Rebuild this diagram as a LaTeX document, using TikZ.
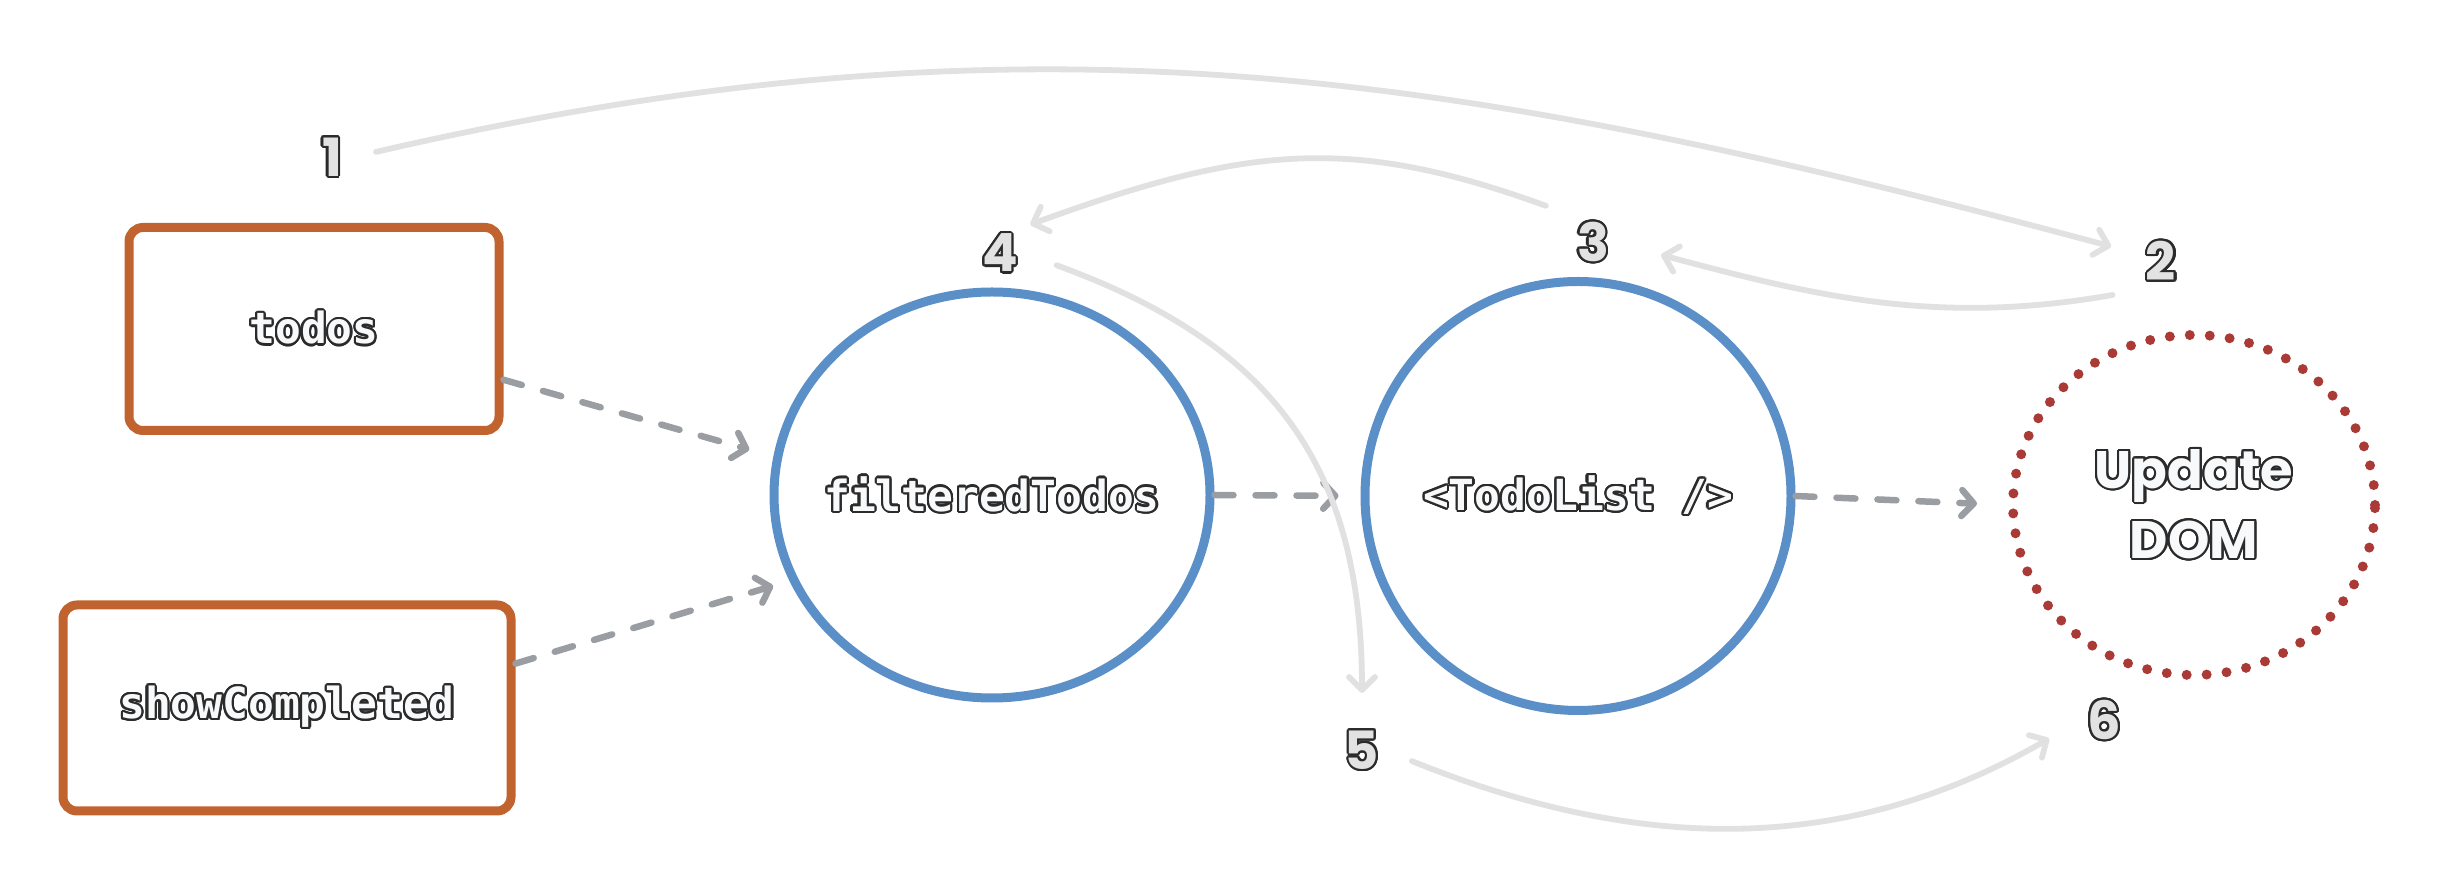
\documentclass[tikz,border=0pt]{standalone}
\usepackage{fontspec}
\usepackage[copies]{contour}
\usetikzlibrary{arrows.meta,shapes.geometric}
\setmonofont{DejaVu Sans Mono}
\newfontfamily\handfont{Poppins}
\definecolor{stateorange}{HTML}{C1632F}
\definecolor{derivedblue}{HTML}{5A8FC8}
\definecolor{effectred}{HTML}{A93A35}
\definecolor{depgray}{HTML}{9A9EA3}
\definecolor{ordergray}{HTML}{E1E1E1}
\definecolor{inkdark}{HTML}{2B2B2B}
\definecolor{textwhite}{HTML}{F8F9FA}
\definecolor{numgray}{HTML}{E2E2E2}
\contourlength{0.6pt}
\contournumber{24}
\tikzstyle{statebox}=[draw=stateorange, line width=0.09cm, rounded corners=0.14cm, inner sep=0pt]
\tikzstyle{derived}=[ellipse, draw=derivedblue, line width=0.09cm, inner sep=0pt]
\tikzstyle{effect}=[ellipse, draw=effectred, line width=0.1cm, line cap=round, dash pattern=on 0pt off 0.2cm, inner sep=0pt]
\tikzstyle{depends}=[draw=depgray, line width=0.065cm, line cap=round, dash pattern=on 0.19cm off 0.22cm, -{Straight Barb[round,length=0.12cm,width=0.26cm]}]
\tikzstyle{order}=[draw=ordergray, line width=0.058cm, line cap=round, -{Straight Barb[round,length=0.13cm,width=0.26cm]}]
\tikzstyle{stepnum}=[inner sep=2pt, font=\handfont\bfseries\fontsize{15}{15}\selectfont]
\newcommand{\codetext}[1]{{\ttfamily\bfseries\fontsize{12.2}{14}\selectfont\textcolor{textwhite}{\contour{inkdark}{#1}}}}
\newcommand{\numtext}[1]{\textcolor{numgray}{\contour{inkdark}{#1}}} % outlined step number
\newcommand{\handtext}[1]{\textcolor{textwhite}{\contour{inkdark}{#1}}}

\begin{document}
\begin{tikzpicture}
	\useasboundingbox (0,0) rectangle (24.47,8.92);
	% state
	\node[statebox, minimum width=3.70cm, minimum height=2.03cm] (todos) at (3.14,5.63) {\codetext{todos}};
	\node[statebox, minimum width=4.48cm, minimum height=2.06cm] (showCompleted) at (2.87,1.84) {\codetext{showCompleted}};
	% derived values
	\node[derived, minimum width=4.36cm, minimum height=4.06cm, label=center:{\codetext{filteredTodos}}] (filteredTodos) at (9.92,3.97) {};
	\node[derived, minimum width=4.26cm, minimum height=4.29cm, label=center:{\codetext{<TodoList />}}] (todoList) at (15.78,3.96) {};
	% effect
	\node[effect, minimum width=3.62cm, minimum height=3.40cm,
		label={[align=center, font=\handfont\bfseries\fontsize{15}{20}\selectfont]center:{\handtext{Update}\\\handtext{DOM}}}] (updateDOM) at (21.94,3.87) {};

	\draw[depends, shorten >=0.25cm] (todos.-15) -- (filteredTodos.170);
	\draw[depends, shorten >=0.17cm] (showCompleted.11) -- (filteredTodos.203);
	\draw[depends, shorten >=0.22cm] (filteredTodos.east) -- (todoList.west);
	\draw[depends, shorten >=0.31cm] (todoList.east) -- (updateDOM.west);

	% order of the steps
	\node[stepnum] (s1) at (3.32,7.34) {\numtext{1}};
	\node[stepnum] (s2) at (21.61,6.30) {\numtext{2}};
	\node[stepnum] (s3) at (15.93,6.49) {\numtext{3}};
	\node[stepnum] (s4) at (10.00,6.38) {\numtext{4}};
	\node[stepnum] (s5) at (13.62,1.41) {\numtext{5}};
	\node[stepnum] (s6) at (21.04,1.71) {\numtext{6}};

	\draw[order, shorten <=0.27cm, shorten >=0.28cm] (s1.east) to[out=13, in=165] (s2.160);
	\draw[order, shorten <=0.26cm, shorten >=0.46cm] (s2.south west) to[out=190, in=-15] (s3.east);
	\draw[order, shorten <=0.25cm, shorten >=0.05cm] (s3.north west) to[out=160, in=20, looseness=1.1] (s4.north east);
	\draw[order, shorten <=0.33cm, shorten >=0.3cm] (s4.east) to[out=-20, in=90, looseness=1.15] (s5.north);
	\draw[order, shorten <=0.27cm, shorten >=0.35cm] (s5.east) to[out=-22, in=210] (s6.west);
\end{tikzpicture}
\end{document}
